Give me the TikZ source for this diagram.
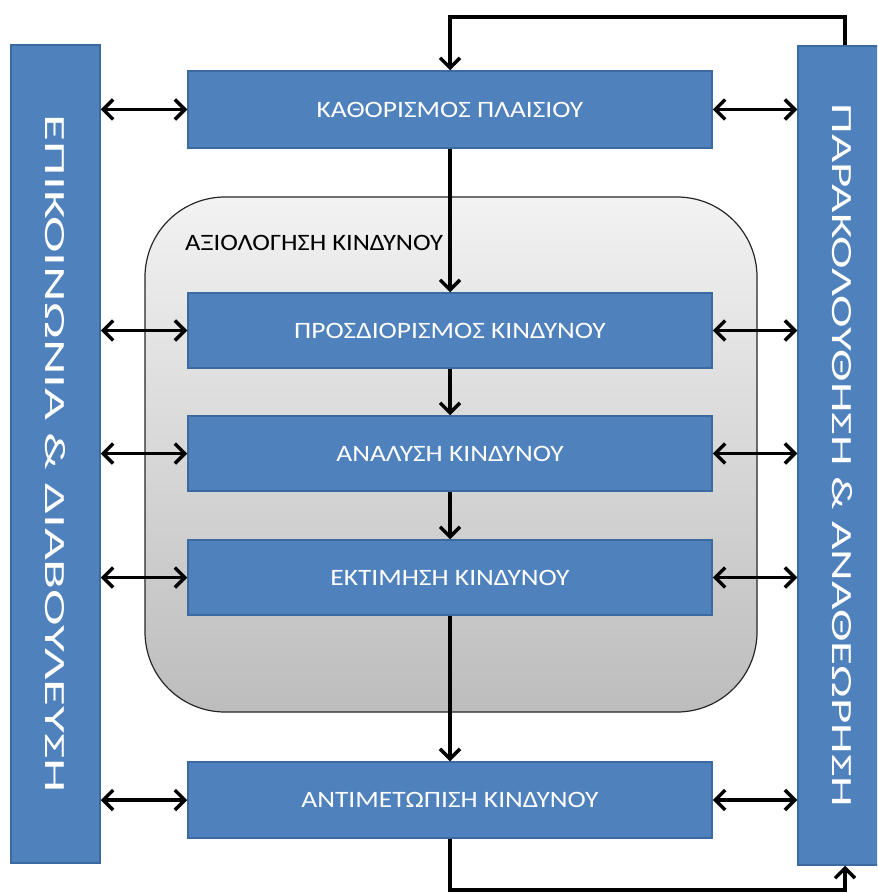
\documentclass[tikz,border=0pt]{standalone}
\usepackage{fontspec}
\usepackage{graphicx}
\setmainfont{Carlito}
\usetikzlibrary{arrows.meta}
\definecolor{boxblue}{HTML}{4F81BD}
\definecolor{boxedge}{HTML}{3A6A9F}
\newcommand\stretchtxt[1]{\scalebox{1.17}[1]{#1}}
\begin{document}
\begin{tikzpicture}[x=1pt,y=-1pt,
  bluebox/.style={draw=boxedge, line width=1.5pt, fill=boxblue, text=white,
    font=\fontsize{23.5}{26}\selectfont, minimum width=524pt, minimum height=77pt, inner sep=0pt},
  sidebar/.style={draw=boxedge, line width=1.5pt, fill=boxblue, text=white, inner sep=0pt, rotate=-90},
  barb/.tip={Straight Barb[length=10pt,width=20pt,line width=3.4pt]},
  conn/.style={line width=3.4pt, -barb},
  both/.style={line width=3.4pt, barb-barb},
]
\clip (0,0) rectangle (877,893);
% container
\node[draw=black!85, line width=1.2pt, rounded corners=80pt, top color=black!5, bottom color=black!26,
  minimum width=612pt, minimum height=515pt, inner sep=0pt] (assess) at (451,454.5) {};
\node[anchor=west, font=\fontsize{23.5}{26}\selectfont, inner sep=0pt] (assesslabel) at (185,243)
  {\scalebox{1.13}[1]{ΑΞΙΟΛΟΓΗΣΗ ΚΙΝΔΥΝΟΥ}};
% side bars
\node[sidebar, minimum width=818pt, minimum height=89pt] (comm) at (55.5,454)
  {\resizebox{678pt}{20pt}{\fontsize{30}{30}\selectfont ΕΠΙΚΟΙΝΩΝΙΑ \& ΔΙΑΒΟΥΛΕΥΣΗ}};
\node[sidebar, minimum width=819pt, minimum height=88pt] (mon) at (842,455.5)
  {\resizebox{703pt}{20pt}{\fontsize{30}{30}\selectfont ΠΑΡΑΚΟΛΟΥΘΗΣΗ \& ΑΝΑΘΕΩΡΗΣΗ}};
% process boxes
\node[bluebox] (b1) at (450,109.5) {\stretchtxt{ΚΑΘΟΡΙΣΜΟΣ ΠΛΑΙΣΙΟΥ}};
\node[bluebox, minimum height=75pt] (b2) at (450,330.5) {\stretchtxt{ΠΡΟΣΔΙΟΡΙΣΜΟΣ ΚΙΝΔΥΝΟΥ}};
\node[bluebox, minimum height=75pt] (b3) at (450,453.5) {\stretchtxt{ΑΝΑΛΥΣΗ ΚΙΝΔΥΝΟΥ}};
\node[bluebox, minimum height=75pt] (b4) at (450,577.5) {\stretchtxt{ΕΚΤΙΜΗΣΗ ΚΙΝΔΥΝΟΥ}};
\node[bluebox, minimum height=76pt] (b5) at (450,800) {\stretchtxt{ΑΝΤΙΜΕΤΩΠΙΣΗ ΚΙΝΔΥΝΟΥ}};
% vertical flow
\draw[conn] (b1.south) -- (b2.north);
\draw[conn] (b2.south) -- (b3.north);
\draw[conn] (b3.south) -- (b4.north);
\draw[conn] (b4.south) -- (b5.north);
% side links
\foreach \b in {b1,b2,b3,b4,b5}{
  \draw[both] (comm.north |- \b.west) -- (\b.west);
  \draw[both] (\b.east) -- (mon.south |- \b.east);
}
% feedback loop
\coordinate (fbtop) at (845,17);
\coordinate (fbbot) at (845,890);
\draw[conn] (mon.west -| fbtop) -- (fbtop) -- (fbtop -| b1.north) -- (b1.north);
\draw[conn] (b5.south) -- (b5.south |- fbbot) -- (fbbot) -- (mon.east -| fbbot);
\end{tikzpicture}
\end{document}
